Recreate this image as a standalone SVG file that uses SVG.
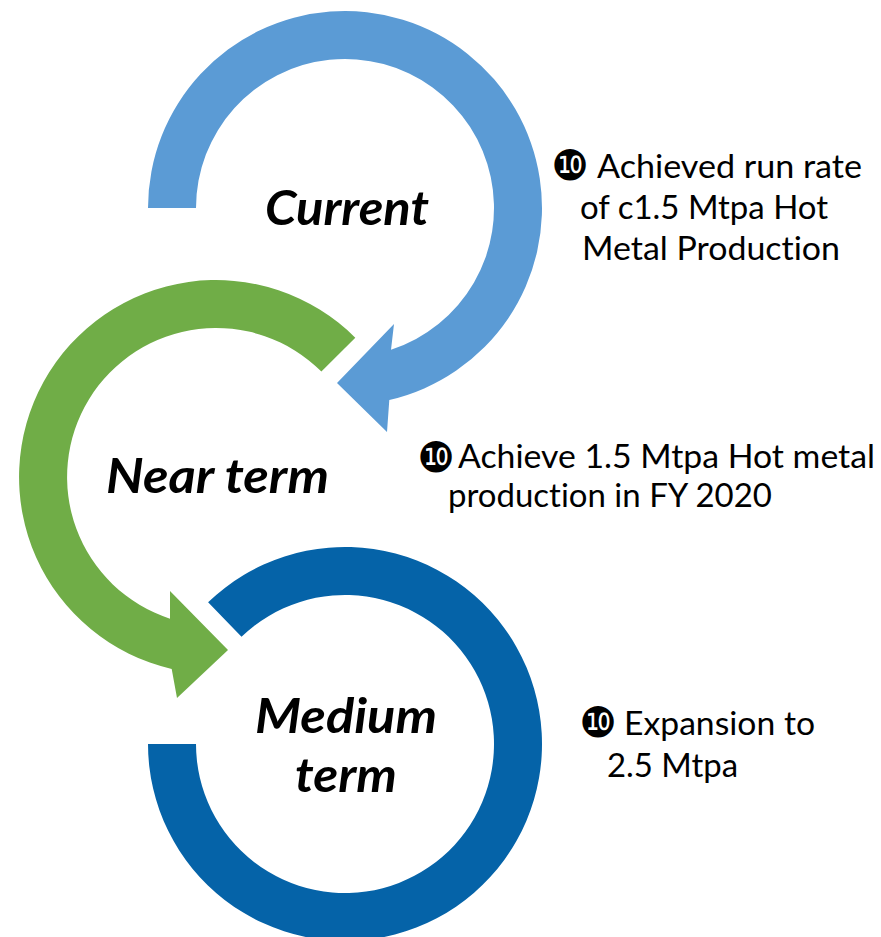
<svg xmlns="http://www.w3.org/2000/svg" width="881" height="937" viewBox="0 0 881 937">
<style>
.lbl{font-family:Lato,"Open Sans","Liberation Sans",sans-serif;font-weight:bold;font-style:italic;font-size:47px;fill:#000}
.txt{font-family:Lato,"Open Sans","Liberation Sans",sans-serif;font-size:32px;fill:#000;font-variant-ligatures:none}
.bul{font-family:"DejaVu Sans",sans-serif;font-size:42px;fill:#000;text-anchor:middle}
</style>
<rect width="881" height="937" fill="#fff"/>
<g id="connectors">
<path id="arc-current" fill="#5B9BD5" d="M148,208 A197,197 0 1 1 389.3,400 L387,432 L337,383 L394,324 L391,349.7 A149,149 0 1 0 196,208 Z"/>
<path id="arc-near" fill="#70AD47" d="M355.3,337.7 A197,197 0 1 0 171.7,669 L177,698 L228,650 L170,591 L170,618.7 A149,149 0 1 1 321.4,371.6 Z"/>
<path id="arc-medium" fill="#0563A8" d="M208.1,602.3 A197,197 0 1 1 148,744 L196,744 A149,149 0 1 0 241.5,636.8 Z"/>
</g>
<g id="current">
<text class="lbl" x="265" y="225" textLength="164" lengthAdjust="spacingAndGlyphs">Current</text>
</g>
<g id="near-term">
<text class="lbl" x="106" y="493" textLength="223" lengthAdjust="spacingAndGlyphs">Near term</text>
</g>
<g id="medium-term">
<text class="lbl" x="255" y="733" textLength="182" lengthAdjust="spacingAndGlyphs">Medium</text>
<text class="lbl" x="295" y="792" textLength="102" lengthAdjust="spacingAndGlyphs">term</text>
</g>
<g id="note-current">
<text class="bul" x="570" y="180">❿</text>
<text class="txt" x="597" y="178" textLength="265" lengthAdjust="spacingAndGlyphs">Achieved run rate</text>
<text class="txt" x="580" y="219" textLength="248" lengthAdjust="spacingAndGlyphs">of c1.5 Mtpa Hot</text>
<text class="txt" x="582" y="260" textLength="258" lengthAdjust="spacingAndGlyphs">Metal Production</text>
</g>
<g id="note-near">
<text class="bul" x="436" y="472">❿</text>
<text class="txt" x="458" y="468" textLength="417" lengthAdjust="spacingAndGlyphs">Achieve 1.5 Mtpa Hot metal</text>
<text class="txt" x="448" y="507" textLength="324" lengthAdjust="spacingAndGlyphs">production in FY 2020</text>
</g>
<g id="note-medium">
<text class="bul" x="598" y="737">❿</text>
<text class="txt" x="624" y="735" textLength="191" lengthAdjust="spacingAndGlyphs">Expansion to</text>
<text class="txt" x="607" y="777" textLength="131" lengthAdjust="spacingAndGlyphs">2.5 Mtpa</text>
</g>
</svg>
